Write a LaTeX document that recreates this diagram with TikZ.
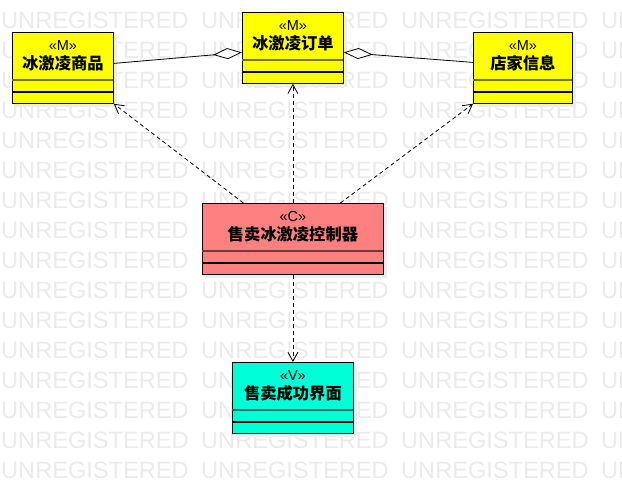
\documentclass[tikz,border=0pt]{standalone}
\usepackage{fontspec}
\setmainfont{Liberation Sans}
\newfontfamily\cjk{Noto Sans CJK SC}
\usetikzlibrary{arrows.meta,shadows}
\definecolor{wmgray}{HTML}{EBEBEB}
\definecolor{mYellow}{HTML}{FFFF00}
\definecolor{cRed}{HTML}{FF8080}
\definecolor{vCyan}{HTML}{00FFD6}
\tikzset{
  wm/.style={text=wmgray, font=\fontsize{23.6}{23.6}\selectfont, inner sep=0pt, anchor=base west},
  umlbox/.style={draw=black, line width=0.8pt, minimum width=#1, minimum height=71pt,
    inner sep=0pt, anchor=north west,
    drop shadow={shadow xshift=4pt, shadow yshift=-4pt, fill=black!7, opacity=1}},
  stereo/.style={font=\fontsize{14.5}{14.5}\selectfont, inner sep=0pt},
  cname/.style={font=\cjk\bfseries\fontsize{16.3}{16.3}\selectfont, inner sep=0pt},
  comp/.style={line width=1.1pt},
  dep/.style={draw=black, line width=0.8pt, dash pattern=on 4pt off 3pt,
    -{Straight Barb[length=9pt,width=10pt,line width=0.8pt]}},
  agg/.style={draw=black, line width=0.8pt,
    -{Diamond[fill=white,length=29pt,width=11pt,line width=0.8pt]}}
}
\begin{document}
\begin{tikzpicture}[x=1pt,y=-1pt]
\useasboundingbox (0,0) rectangle (622,483);
\fill[white] (0,0) rectangle (622,483);
% watermark
\foreach \r in {0,...,15}{
  \foreach \c in {0,...,3}{
    \node[wm] (wm-\r-\c) at (\c*200+1, 28+\r*30) {UNREGISTERED};
  }
}
% boxes
\node[umlbox=101pt, fill=mYellow] (b1) at (12,32) {};
\node[umlbox=101pt, fill=mYellow] (b2) at (242,12) {};
\node[umlbox=99pt, fill=mYellow] (b3) at (473,32) {};
\node[umlbox=181pt, fill=cRed] (b4) at (202,203) {};
\node[umlbox=121pt, fill=vCyan] (b5) at (232,362) {};
% compartments
\foreach \b/\col in {b1/mYellow, b2/mYellow, b3/mYellow, b4/cRed, b5/vCyan}{
  \draw[comp, draw=\col!45!black] ([yshift=-48pt,xshift=0.4pt]\b.north west) -- ([yshift=-48pt,xshift=-0.4pt]\b.north east);
  \draw[comp, draw=black] ([yshift=-60pt,xshift=0.4pt]\b.north west) -- ([yshift=-60pt,xshift=-0.4pt]\b.north east);
}
% texts
\node[stereo] (b1s) at ([yshift=-14pt]b1.north) {«M»};
\node[cname]  (b1n) at ([yshift=-31.5pt]b1.north) {冰激凌商品};
\node[stereo] (b2s) at ([yshift=-14pt]b2.north) {«M»};
\node[cname]  (b2n) at ([yshift=-31.5pt]b2.north) {冰激凌订单};
\node[stereo] (b3s) at ([yshift=-14pt]b3.north) {«M»};
\node[cname]  (b3n) at ([yshift=-31.5pt]b3.north) {店家信息};
\node[stereo] (b4s) at ([yshift=-14pt]b4.north) {«C»};
\node[cname]  (b4n) at ([yshift=-31.5pt]b4.north) {售卖冰激凌控制器};
\node[stereo] (b5s) at ([yshift=-14pt]b5.north) {«V»};
\node[cname]  (b5n) at ([yshift=-31.5pt]b5.north) {售卖成功界面};
% aggregations
\draw[agg] ([yshift=4.5pt]b1.east) -- ([yshift=-4.5pt]b2.west);
\draw[agg] ([yshift=5.5pt]b3.west) -- ([yshift=-4.5pt]b2.east);
% dependencies
\draw[dep] ([xshift=-49.5pt]b4.north) -- (b1.south east);
\draw[dep] (b4.north) -- (b2.south);
\draw[dep] ([xshift=47.5pt]b4.north) -- (b3.south west);
\draw[dep] (b4.south) -- (b5.north);
\end{tikzpicture}
\end{document}
